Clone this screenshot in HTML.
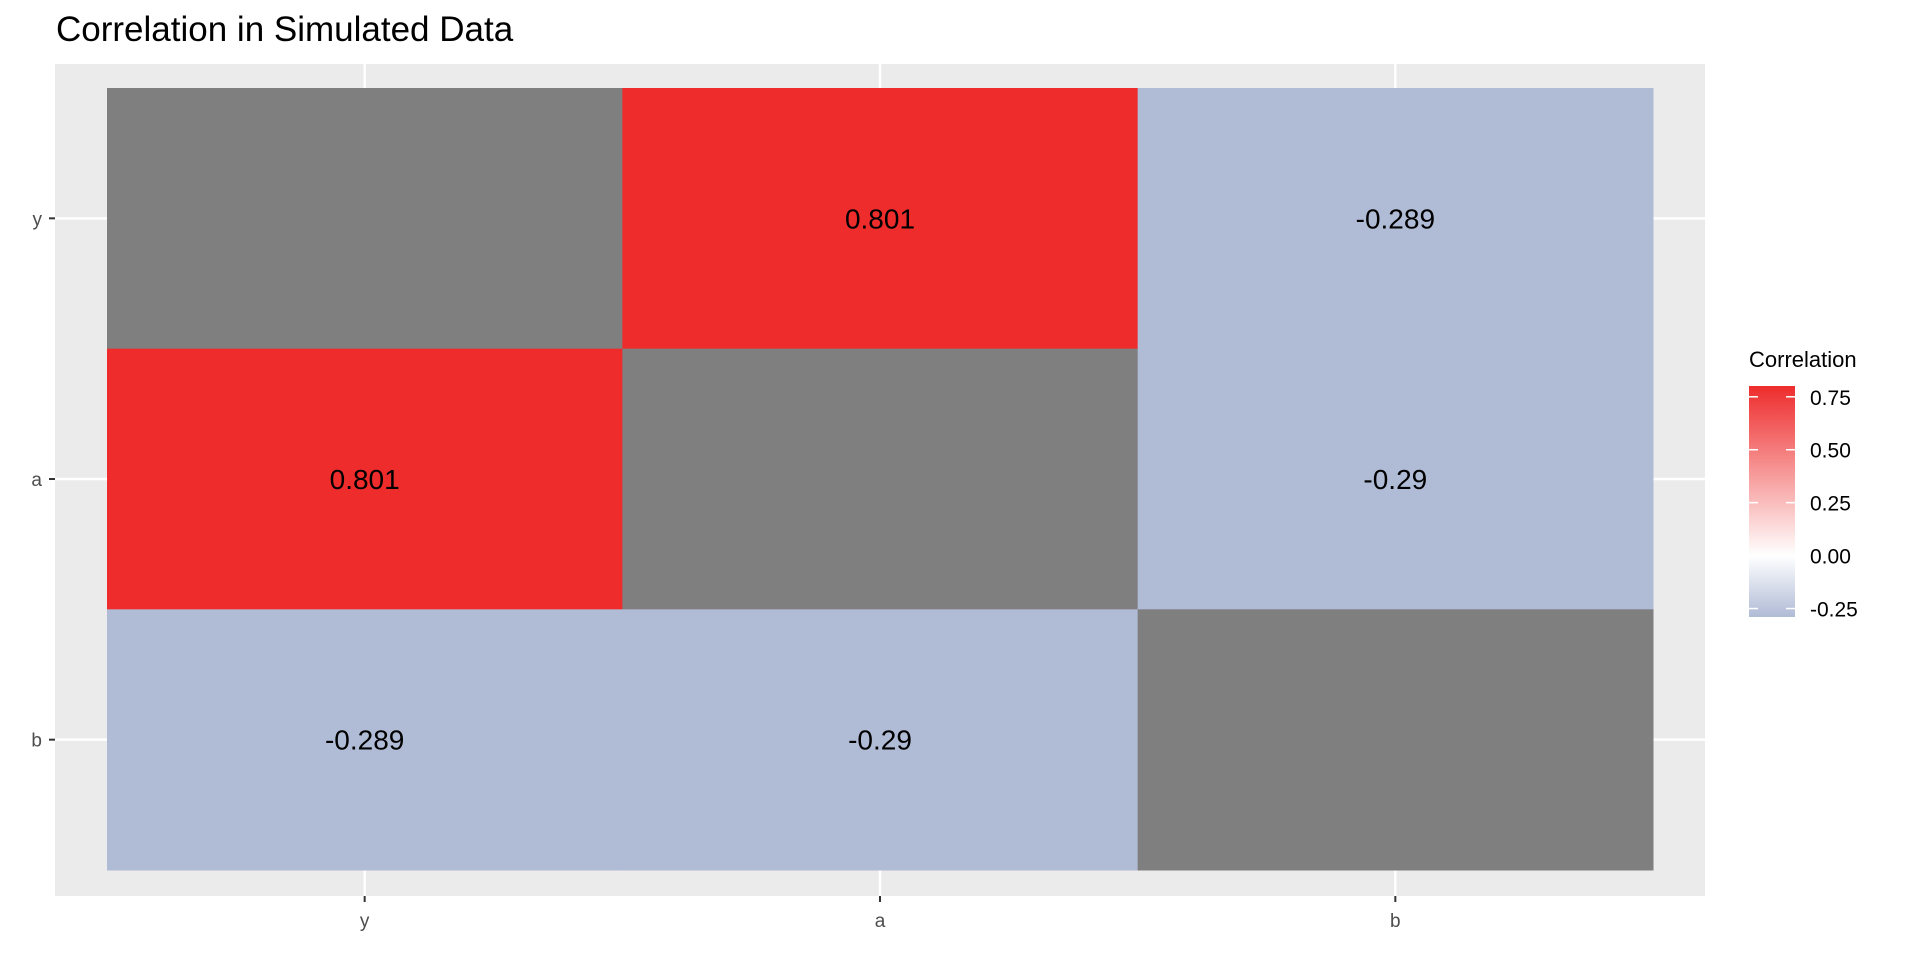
<!DOCTYPE html>
<html><head><meta charset="utf-8"><style>
body{margin:0;background:#fff;font-family:"Liberation Sans",sans-serif}
svg text{font-family:"Liberation Sans",sans-serif}
</style></head><body>
<svg id="chart" width="1920" height="960" xmlns="http://www.w3.org/2000/svg">
<defs>
<linearGradient id="lg" x1="0" y1="1" x2="0" y2="0">
<stop id="s0" offset="0" stop-color="#B0BBD6"/>
<stop id="s1" offset="0.266" stop-color="#FFFFFF"/>
<stop id="s2" offset="1" stop-color="#EE2C2C"/>
</linearGradient>
</defs>
<text x="56" y="41" font-size="35" fill="#000">Correlation in Simulated Data</text>
<rect x="55" y="64" width="1650" height="832" fill="#EBEBEB"/>
<g id="grid"></g>
<g id="cells"></g>
<g id="axes"></g>
<g id="legend">
<text x="1749" y="367" font-size="22" fill="#000">Correlation</text>
<rect x="1749" y="386" width="46" height="231" fill="url(#lg)"/>
<g id="legticks"></g>
</g>
</svg>
<script>
const xCats = ["y","a","b"];
const yCats = ["y","a","b"];
const corrValues = [
  [null, 0.801, -0.289],
  [0.801, null, -0.29],
  [-0.289, -0.29, null]
];
const cellLabels = [
  ["", "0.801", "-0.289"],
  ["0.801", "", "-0.29"],
  ["-0.289", "-0.29", ""]
];
const legendTicks = [0.75, 0.5, 0.25, 0, -0.25];
const legendTickLabels = ["0.75","0.50","0.25","0.00","-0.25"];
const vMin = -0.29, vMax = 0.801;

const NS="http://www.w3.org/2000/svg";
const tx0=107, tx1=1653, ty0=88, ty1=870;
const cw=(tx1-tx0)/xCats.length, ch=(ty1-ty0)/yCats.length;
function xPos(i){return tx0+cw*i;}
function yPos(j){return ty0+ch*j;}
function mk(tag,attrs,parent){const e=document.createElementNS(NS,tag);for(const k in attrs)e.setAttribute(k,attrs[k]);parent.appendChild(e);return e;}
function lerp(a,b,t){return Math.round(a+(b-a)*t);}
function colorFor(v){
  if(v===null)return "#7F7F7F";
  const lo=[176,187,214], mid=[255,255,255], hi=[238,44,44];
  let c;
  if(v<0){const t=Math.min(1,v/vMin);c=mid.map((m,k)=>lerp(m,lo[k],t));}
  else{const t=Math.min(1,v/vMax);c=mid.map((m,k)=>lerp(m,hi[k],t));}
  return "rgb("+c.join(",")+")";
}
document.getElementById('s1').setAttribute('offset',(0-vMin)/(vMax-vMin));
const grid=document.getElementById('grid');
xCats.forEach((c,i)=>{
  const l=mk('line',{x1:xPos(i)+cw/2,x2:xPos(i)+cw/2,y1:64,y2:896,stroke:'#fff','stroke-width':2.5},grid);
  
  
});
yCats.forEach((c,j)=>{
  const l=mk('line',{x1:55,x2:1705,y1:yPos(j)+ch/2,y2:yPos(j)+ch/2,stroke:'#fff','stroke-width':2.5},grid);
  
  
});
const cells=document.getElementById('cells');
yCats.forEach((r,j)=>{xCats.forEach((c,i)=>{
  const v=corrValues[j][i];
  const rc=mk('rect',{x:xPos(i),y:yPos(j),width:cw+0.5,height:ch+0.5,fill:colorFor(v)},cells);
  
  
  if(cellLabels[j][i]){
    const t=mk('text',{x:xPos(i)+cw/2,y:yPos(j)+ch/2+10,'font-size':28,'text-anchor':'middle',fill:'#000'},cells);
    t.textContent=cellLabels[j][i];
    
    
  }
});});
const axes=document.getElementById('axes');
xCats.forEach((c,i)=>{
  const x=xPos(i)+cw/2;
  const tk=mk('line',{x1:x,x2:x,y1:896,y2:902,stroke:'#333','stroke-width':2},axes);
  
  
  const t=mk('text',{x:x,y:927,'font-size':19,'text-anchor':'middle',fill:'#4D4D4D'},axes);
  t.textContent=c;
  
  
});
yCats.forEach((c,j)=>{
  const y=yPos(j)+ch/2;
  const tk=mk('line',{x1:49,x2:55,y1:y,y2:y,stroke:'#333','stroke-width':2},axes);
  
  
  const t=mk('text',{x:42,y:y+7,'font-size':19,'text-anchor':'end',fill:'#4D4D4D'},axes);
  t.textContent=c;
  
  
});
const lt=document.getElementById('legticks');
function ly(v){return 617-(v-vMin)/(vMax-vMin)*231;}
legendTicks.forEach((v,k)=>{
  const y=ly(v);
  const a=mk('line',{x1:1749,x2:1758,y1:y,y2:y,stroke:'#fff','stroke-width':1.5},lt);
  
  
  const b=mk('line',{x1:1786,x2:1795,y1:y,y2:y,stroke:'#fff','stroke-width':1.5},lt);
  
  
  const t=mk('text',{x:1810,y:y+8,'font-size':21,fill:'#000'},lt);
  t.textContent=legendTickLabels[k];
  
  
});
</script>
</body></html>
